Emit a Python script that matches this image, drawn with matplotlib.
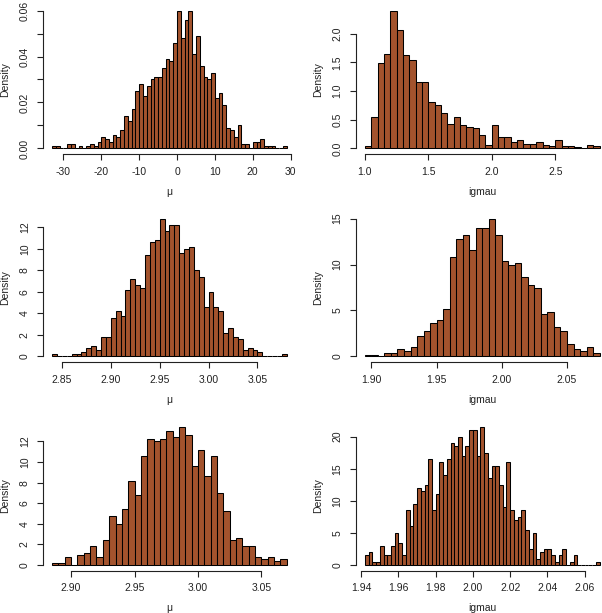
import matplotlib
matplotlib.use("Agg")
import matplotlib.pyplot as plt
import numpy as np

plt.rcParams['font.family'] = ['Liberation Sans', 'DejaVu Sans']
plt.rcParams['axes.unicode_minus'] = False

# panel 1: mu, bin width 1
mu1_start, mu1_width = -33, 1.0
mu1_dens = [0.001, 0.001, 0, 0, 0.002, 0.002, 0, 0.001, 0, 0.001,
            0.002, 0.001, 0.003, 0.005, 0.004, 0.003, 0.006, 0.005, 0.008,
            0.014, 0.012, 0.017, 0.025, 0.028, 0.023, 0.027, 0.030, 0.031,
            0.031, 0.035, 0.039, 0.038, 0.046,
            0.060, 0.048, 0.056, 0.060, 0.041, 0.049, 0.036, 0.031, 0.030,
            0.033, 0.022, 0.024, 0.019, 0.009, 0.008, 0.005, 0.010, 0.002,
            0.002, 0, 0.003, 0.003, 0.004, 0.001, 0.001, 0.001, 0, 0, 0.001]

# panel 2: igmau, bin width 0.05
ig1_start, ig1_width = 1.00, 0.05
ig1_dens = [0.04, 0.54, 1.48, 1.64, 2.40, 2.06, 1.62, 1.54, 1.16, 1.16,
            0.80, 0.76, 0.62, 0.42, 0.54, 0.40, 0.38, 0.36, 0.24, 0.06,
            0.40, 0.20, 0.20, 0.12, 0.14, 0.08, 0.08, 0.12, 0.06, 0.04,
            0.14, 0.04, 0.04, 0.02, 0, 0.06, 0.04]

# panel 3: mu, bin width 0.005
mu2_start, mu2_width = 2.840, 0.005
mu2_dens = [0.2, 0, 0, 0, 0.2, 0.2, 0.4, 0.8, 1.0, 0.6, 1.8, 1.8,
            3.6, 4.2, 3.8, 6.2, 7.2, 6.6, 6.4, 9.4, 10.6, 10.8,
            12.8, 11.6, 12.2, 12.2, 9.6, 10.0, 10.2, 8.0, 7.4, 4.6,
            6.0, 4.6, 4.2, 2.2, 2.6, 1.8, 1.6, 0.6, 0.8, 0.6, 0.4,
            0, 0, 0, 0, 0.2]

# panel 4: igmau, bin width 0.005
ig2_start, ig2_width = 1.895, 0.005
ig2_dens = [0.2, 0.2, 0, 0.4, 0.4, 0.8, 0.6, 1.0, 2.2, 2.8,
            3.6, 4.0, 5.2, 10.8, 12.8, 13.2, 11.6, 14.0, 14.0, 15.0,
            13.2, 10.4, 10.0, 10.2, 8.6, 7.8, 7.4, 4.6, 4.8, 3.2,
            2.8, 1.4, 0.8, 0.6, 1.0, 0.4]

# panel 5: mu, bin width 0.005
mu3_start, mu3_width = 2.885, 0.005
mu3_dens = [0.2, 0.2, 0.8, 0, 1.0, 1.2, 1.8, 0.8, 2.4, 4.8,
            4.0, 5.4, 8.2, 6.8, 10.6, 12.2, 12.0, 12.2, 13.0, 12.4,
            13.4, 12.6, 9.6, 11.2, 8.6, 10.6, 7.0, 5.2, 2.4, 2.6,
            1.8, 1.8, 0.8, 0.6, 0.8, 0.4, 0.6]

# panel 6: igmau, bin width 0.002
ig3_start, ig3_width = 1.942, 0.002
ig3_dens = [1.5, 2.0, 0.5, 0.5, 3.0, 1.5, 1.5, 3.0, 5.0, 3.5,
            1.5, 8.5, 6.0, 9.5, 12.0, 11.5, 12.5, 16.5, 8.5, 11.0,
            16.0, 14.0, 16.5, 19.0, 18.5, 20.0, 17.0, 18.5, 21.0, 21.0,
            17.0, 21.5, 17.5, 13.5, 15.5, 15.5, 12.5, 9.0, 16.0, 8.5,
            7.0, 7.5, 8.5, 5.5, 2.5, 5.0, 1.0, 2.0, 2.5, 2.5,
            1.5, 0.5, 1.5, 2.5, 0, 0.5, 1.5, 0, 0, 0, 0, 0, 0.5]

panels = [
    (mu1_start, mu1_width, mu1_dens, "μ", [-30, -20, -10, 0, 10, 20, 30],
     ["-30", "-20", "-10", "0", "10", "20", "30"],
     [0, 0.01, 0.02, 0.03, 0.04, 0.05, 0.06],
     ["0.00", "", "0.02", "", "0.04", "", "0.06"]),
    (ig1_start, ig1_width, ig1_dens, "igmau", [1.0, 1.5, 2.0, 2.5],
     ["1.0", "1.5", "2.0", "2.5"],
     [0, 0.5, 1.0, 1.5, 2.0], ["0.0", "0.5", "1.0", "1.5", "2.0"]),
    (mu2_start, mu2_width, mu2_dens, "μ", [2.85, 2.90, 2.95, 3.00, 3.05],
     ["2.85", "2.90", "2.95", "3.00", "3.05"],
     [0, 2, 4, 6, 8, 10, 12], ["0", "2", "4", "6", "8", "10", "12"]),
    (ig2_start, ig2_width, ig2_dens, "igmau", [1.90, 1.95, 2.00, 2.05],
     ["1.90", "1.95", "2.00", "2.05"],
     [0, 5, 10, 15], ["0", "5", "10", "15"]),
    (mu3_start, mu3_width, mu3_dens, "μ", [2.90, 2.95, 3.00, 3.05],
     ["2.90", "2.95", "3.00", "3.05"],
     [0, 2, 4, 6, 8, 10, 12], ["0", "2", "4", "6", "8", "10", "12"]),
    (ig3_start, ig3_width, ig3_dens, "igmau",
     [1.94, 1.96, 1.98, 2.00, 2.02, 2.04, 2.06],
     ["1.94", "1.96", "1.98", "2.00", "2.02", "2.04", "2.06"],
     [0, 5, 10, 15, 20], ["0", "5", "10", "15", "20"]),
]

W, H = 602, 613
fig = plt.figure(figsize=(W / 100, H / 100), dpi=100)

col_left = [42.7, 355.5]
row_bottom = [154.0, 362.0, 570.5]
pw, ph = 253.5, 149.0
ink = '#222222'

for i, (start, width, dens, xlab, xt, xtl, yt, ytl) in enumerate(panels):
    r, c = divmod(i, 2)
    ax = fig.add_axes([col_left[c] / W, (H - row_bottom[r]) / H, pw / W, ph / H])
    dens = np.array(dens)
    edges = start + width * np.arange(len(dens) + 1)
    ax.bar(edges[:-1], dens, width=width, align='edge', color='#A3532D',
           edgecolor='black', linewidth=0.75)
    lo, hi = edges[0], edges[-1]
    pad = 0.04 * (hi - lo)
    ax.set_xlim(lo - pad, hi + pad)
    top = dens.max()
    ax.set_ylim(-0.04 * top, 1.04 * top)
    for s in ['top', 'right']:
        ax.spines[s].set_visible(False)
    ax.spines['left'].set_bounds(yt[0], yt[-1])
    ax.spines['bottom'].set_bounds(xt[0], xt[-1])
    for s in ['left', 'bottom']:
        ax.spines[s].set_linewidth(0.8)
        ax.spines[s].set_color(ink)
    ax.set_xticks(xt)
    ax.set_xticklabels(xtl)
    ax.set_yticks(yt)
    ax.set_yticklabels(ytl, rotation=90, va='center')
    ax.tick_params(direction='out', length=4.3, width=0.8, labelsize=7.5,
                   pad=5.0, colors=ink, labelcolor=ink)
    ax.set_xlabel(xlab, fontsize=7.5, color=ink, va='center')
    ax.xaxis.set_label_coords(0.5, -0.255)
    ax.set_ylabel("Density", fontsize=7.5, color=ink, va='center')
    ax.yaxis.set_label_coords(-0.148, 0.5)

fig.savefig("out.png", dpi=100)
